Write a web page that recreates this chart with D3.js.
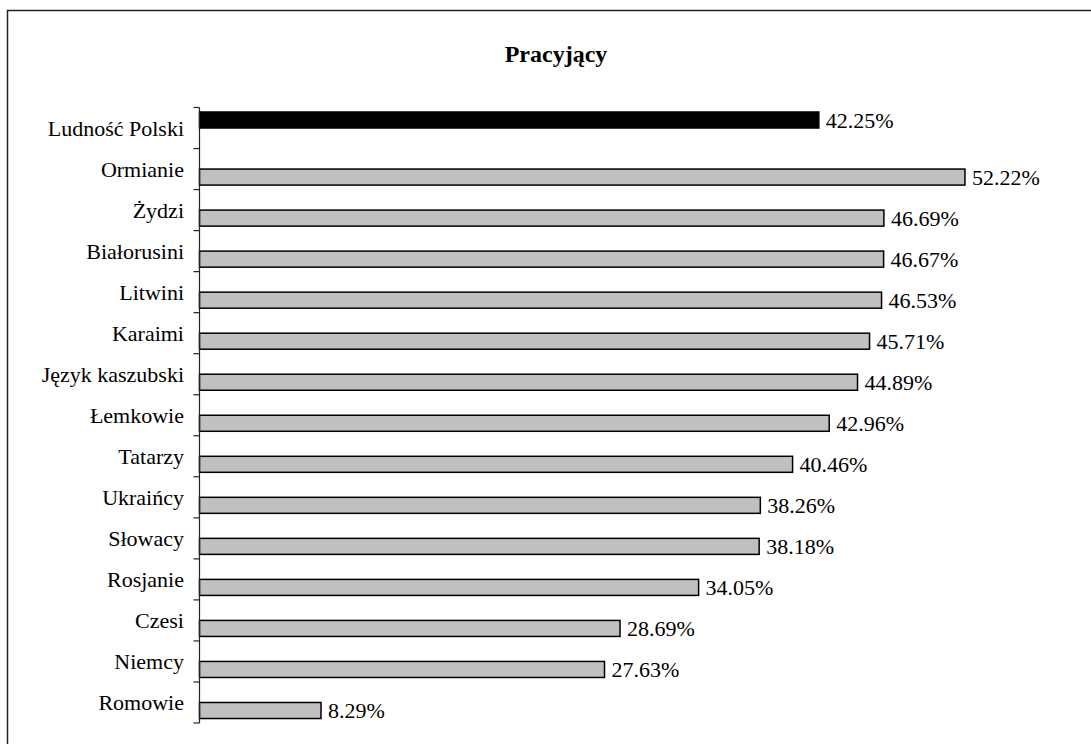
<!DOCTYPE html>
<html><head><meta charset="utf-8">
<script src="https://cdn.jsdelivr.net/npm/d3@7"></script>
<style>body{margin:0;background:#fff}svg{display:block}</style>
</head><body>
<script>
const title = "Pracyjący";
const categories = ["Ludność Polski","Ormianie","Żydzi","Białorusini","Litwini","Karaimi","Język kaszubski","Łemkowie","Tatarzy","Ukraińcy","Słowacy","Rosjanie","Czesi","Niemcy","Romowie"];
const seriesNames = ["Ludność Polski","Mniejszości"];
const populationValues = [42.25];
const minorityValues = [null,52.22,46.69,46.67,46.53,45.71,44.89,42.96,40.46,38.26,38.18,34.05,28.69,27.63,8.29];

const W = 1091, H = 744;
const svg = d3.select("body").append("svg").attr("width", W).attr("height", H);
const font = "'Liberation Serif','Times New Roman',serif";

svg.append("rect").attr("x",7.5).attr("y",10.5).attr("width",W+20).attr("height",H+20)
  .attr("fill","#fff").attr("stroke","#222").attr("stroke-width",1.5);

svg.append("text").attr("x",556).attr("y",62).attr("text-anchor","middle")
  .attr("font-family",font).attr("font-weight","bold").attr("font-size",24).text(title);

const x = d3.scaleLinear().domain([0,60]).range([199.5,1079]);
const y = d3.scaleBand().domain(categories).range([107.5,723]).paddingInner(0).paddingOuter(0);
const ySub = d3.scaleBand().domain(seriesNames).range([0,y.bandwidth()]).paddingInner(0).paddingOuter(0.28);

const rows = [];
categories.forEach((c,i)=>{
  if (i < populationValues.length && populationValues[i] != null) rows.push({c, s: seriesNames[0], v: populationValues[i]});
  if (minorityValues[i] != null) rows.push({c, s: seriesNames[1], v: minorityValues[i]});
});

const g = svg.append("g");
g.selectAll("rect.bar").data(rows).join("rect").attr("class","bar")
  .attr("x", x(0))
  .attr("y", d => y(d.c) + ySub(d.s))
  .attr("width", d => x(d.v) - x(0))
  .attr("height", ySub.bandwidth())
  .attr("fill", d => d.s === seriesNames[0] ? "#000" : "#c0c0c0")
  .attr("stroke", "#000").attr("stroke-width", 1.5);

g.selectAll("text.val").data(rows).join("text").attr("class","val")
  .attr("x", d => x(d.v) + 7)
  .attr("y", d => y(d.c) + ySub(d.s) + ySub.bandwidth()/2)
  .attr("dy","0.35em")
  .attr("font-family",font).attr("font-size",22).attr("fill","#000")
  .text(d => d.v.toFixed(2) + "%");

// axis
const ax = svg.append("g");
ax.append("line").attr("x1",x(0)).attr("x2",x(0)).attr("y1",y.range()[0]).attr("y2",y.range()[1])
  .attr("stroke","#222").attr("stroke-width",1.2);
const boundaries = categories.map(c => y(c)).concat([y.range()[1]]);
ax.selectAll("line.tick").data(boundaries).join("line").attr("class","tick")
  .attr("x1",x(0)-6).attr("x2",x(0)).attr("y1",d=>d).attr("y2",d=>d)
  .attr("stroke","#222").attr("stroke-width",1.2);
ax.selectAll("text.cat").data(categories).join("text").attr("class","cat")
  .attr("x",184).attr("y",d => y(d) + y.bandwidth()/2).attr("dy","0.35em")
  .attr("text-anchor","end").attr("font-family",font).attr("font-size",22).attr("fill","#000")
  .text(d=>d);
</script>
</body></html>
